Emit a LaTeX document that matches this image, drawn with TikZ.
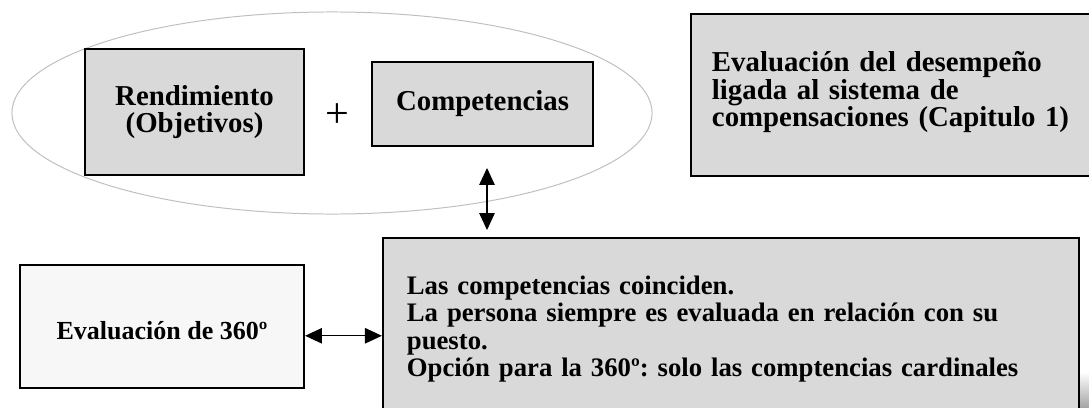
\documentclass[tikz,border=0pt]{standalone}
\usepackage{fontspec}
\setmainfont{Liberation Serif}
\usetikzlibrary{arrows.meta}

\begin{document}
\frenchspacing
\lineskiplimit=-10pt
\begin{tikzpicture}[x=0.025cm,y=-0.025cm,>={Triangle[width=11pt,length=12pt]},
  caja/.style={draw=black,line width=1.5pt,fill=black!15,inner sep=0pt,
    font=\bfseries\fontsize{20.5}{19.2}\selectfont},
  flecha/.style={<->,line width=0.8pt}]
  \useasboundingbox (0,0) rectangle (1089,407);
  % elipse
  \draw[black!25,line width=0.7pt] (332,113) ellipse [x radius=8cm,y radius=2.525cm];
  % cajas de arriba
  \node[caja,minimum width=5.475cm,minimum height=3.15cm,align=center] (rend) at (194.5,112)
    {Rendimiento\\(Objetivos)};
  \node[font=\fontsize{30}{30}\selectfont] (mas) at (337,116) {+};
  \node[caja,minimum width=5.525cm,minimum height=2.1cm] (comp) at (482.5,104) {Competencias};
  \node[caja,font=\bfseries\fontsize{20.5}{17.8}\selectfont,text width=9.425cm,
    inner xsep=0.525cm,text height=1.44cm,text depth=2.61cm,align=left] (cap) at (900.5,95)
    {Evaluación del desempeño\\ligada al sistema de\\compensaciones (Capitulo 1)};
  % cajas de abajo
  \node[caja,font=\bfseries\fontsize{19}{19.5}\selectfont,text width=16.2cm,inner xsep=0.6cm,
    text height=1.405cm,text depth=3.145cm,align=left] (coinc) at (731,329)
    {Las competencias coinciden.\\La persona siempre es evaluada en relación con su\\puesto.\\Opción para la 360º: solo las comptencias cardinales};
  \node[caja,fill=black!3,font=\bfseries\fontsize{18.5}{19}\selectfont,minimum width=7.1cm,
    text height=1.85cm,text depth=1.225cm] (eval) at (162,326.5) {Evaluación de 360º};
  % sombra
  \shade[top color=white,bottom color=black!35] (1080,372) rectangle (1089,407);
  % flechas
  \coordinate (arriba) at (487,168);
  \coordinate (abajo) at (487,230);
  \draw[flecha] (arriba) -- (abajo);
  \draw[flecha] (eval.mid east) -- (eval.mid east -| coinc.west);
\end{tikzpicture}
\end{document}
